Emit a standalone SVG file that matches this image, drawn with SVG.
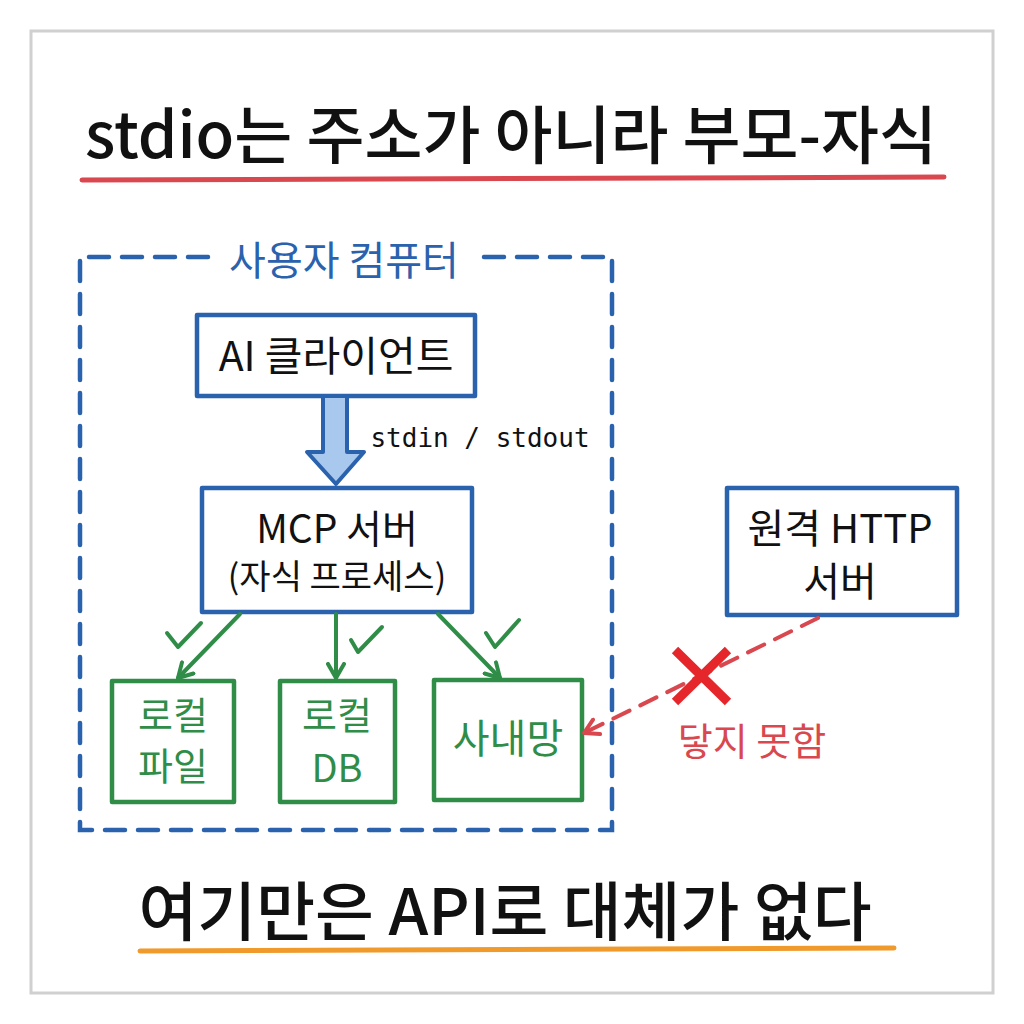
<svg xmlns="http://www.w3.org/2000/svg" width="1024" height="1024" viewBox="0 0 1024 1024">
<defs>
<style>
.t{font-family:"Noto Sans CJK KR","Noto Sans",sans-serif;font-weight:400;}
.hd{font-weight:500;}
.blk{fill:#111;}
.blue{fill:#2a62ad;}
.grn{fill:#2f8d48;}
.red{fill:#d9474f;}
.bbox{fill:#fff;stroke:#2a62ad;stroke-width:4.5;stroke-linejoin:round;}
.gbox{fill:#fff;stroke:#2f8d48;stroke-width:4.5;stroke-linejoin:round;}
.gl{fill:none;stroke:#2f8d48;stroke-width:4;stroke-linecap:round;stroke-linejoin:round;}
</style>
<marker id="ga" viewBox="0 0 20 20" refX="16" refY="10" markerWidth="20" markerHeight="20" markerUnits="userSpaceOnUse" orient="auto">
<path d="M2,2 L16,10 L2,18" fill="none" stroke="#2f8d48" stroke-width="4" stroke-linecap="round" stroke-linejoin="round"/>
</marker>
<marker id="ra" viewBox="0 0 20 20" refX="16" refY="10" markerWidth="20" markerHeight="20" markerUnits="userSpaceOnUse" orient="auto">
<path d="M2,2 L16,10 L2,18" fill="none" stroke="#d9474f" stroke-width="4" stroke-linecap="round" stroke-linejoin="round"/>
</marker>
</defs>
<rect x="0" y="0" width="1024" height="1024" fill="#fff"/>
<rect x="31" y="31" width="962" height="962" fill="none" stroke="#d0d0d0" stroke-width="3"/>

<g id="title">
<text class="t hd blk" x="511" y="158" font-size="63" text-anchor="middle">stdio는 주소가 아니라 부모-자식</text>
<line x1="82" y1="180" x2="944" y2="177" stroke="#d9474f" stroke-width="5" stroke-linecap="round"/>
</g>

<g id="user-computer">
<path d="M208,257 L80,257 L80,830 L612,830 L612,257 L478,257" fill="none" stroke="#2a62ad" stroke-width="4.5" stroke-dasharray="20,13" stroke-linecap="round"/>
<text class="t blue" x="344" y="275" font-size="40" text-anchor="middle">사용자 컴퓨터</text>
</g>

<g id="ai-client">
<rect class="bbox" x="197" y="315" width="278" height="81"/>
<text class="t blk" x="336" y="371" font-size="41" text-anchor="middle">AI 클라이언트</text>
</g>

<g id="mcp-server">
<rect class="bbox" x="202" y="488" width="270" height="124"/>
<text class="t blk" x="337" y="543" font-size="39" text-anchor="middle">MCP 서버</text>
<text class="t blk" x="337" y="589" font-size="34" text-anchor="middle">(자식 프로세스)</text>
</g>

<g id="local-file">
<rect class="gbox" x="112" y="681" width="122" height="121"/>
<text class="t grn" x="173" y="729" font-size="38" text-anchor="middle">로컬</text>
<text class="t grn" x="173" y="780" font-size="38" text-anchor="middle">파일</text>
</g>

<g id="local-db">
<rect class="gbox" x="280" y="681" width="115" height="121"/>
<text class="t grn" x="337" y="729" font-size="38" text-anchor="middle">로컬</text>
<text class="t grn" x="337" y="782" font-size="38" text-anchor="middle">DB</text>
</g>

<g id="intranet">
<rect class="gbox" x="434" y="680" width="148" height="120"/>
<text class="t grn" x="508" y="753" font-size="40" text-anchor="middle">사내망</text>
</g>

<g id="remote-http">
<rect class="bbox" x="727" y="488" width="230" height="127"/>
<text class="t blk" x="840" y="543" font-size="40" text-anchor="middle">원격 HTTP</text>
<text class="t blk" x="840" y="596" font-size="40" text-anchor="middle">서버</text>
</g>

<g id="connectors">
<path d="M323,396 L347,396 L347,452 L364,452 L336,484 L307,452 L323,452 Z" fill="#a9c8ee" stroke="#2a62ad" stroke-width="4" stroke-linejoin="round"/>
<text x="480" y="447" font-family="'DejaVu Sans Mono','Liberation Mono',monospace" font-size="26" fill="#111" text-anchor="middle">stdin / stdout</text>
<line class="gl" x1="240" y1="614" x2="178" y2="678" marker-end="url(#ga)"/>
<line class="gl" x1="336" y1="614" x2="336" y2="678" marker-end="url(#ga)"/>
<line class="gl" x1="438" y1="614" x2="500" y2="678" marker-end="url(#ga)"/>
<path class="gl" d="M167,633 L178,647 L201,623"/>
<path class="gl" d="M351,640 L358,652 L382,627"/>
<path class="gl" d="M486,633 L495,647 L519,620"/>
<line x1="818" y1="618" x2="584" y2="733" stroke="#d9474f" stroke-width="4" stroke-dasharray="18,12" stroke-linecap="round" marker-end="url(#ra)"/>
<path d="M675,650 L728,702 M728,650 L675,702" stroke="#e5262b" stroke-width="9" stroke-linecap="butt"/>
<text class="t red" x="752" y="755" font-size="38" text-anchor="middle">닿지 못함</text>
</g>

<g id="footer">
<text class="t hd blk" x="505" y="935" font-size="64" text-anchor="middle">여기만은 API로 대체가 없다</text>
<line x1="140" y1="951" x2="894" y2="948" stroke="#f09a2c" stroke-width="5" stroke-linecap="round"/>
</g>
</svg>
